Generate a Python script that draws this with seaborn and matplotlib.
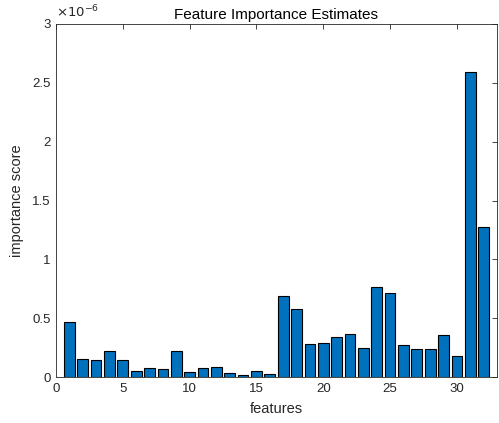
import numpy as np
import pandas as pd
import matplotlib
matplotlib.use("Agg")
import matplotlib.pyplot as plt
import seaborn as sns
from matplotlib.ticker import FuncFormatter, MultipleLocator

features = list(range(1, 33))
scores_e6 = [0.47, 0.154, 0.148, 0.227, 0.148, 0.055, 0.080, 0.075,
             0.225, 0.047, 0.080, 0.092, 0.041, 0.024, 0.058, 0.032,
             0.690, 0.578, 0.287, 0.290, 0.343, 0.371, 0.253, 0.770,
             0.713, 0.273, 0.244, 0.239, 0.357, 0.182, 2.585, 1.275]
scores = [v * 1e-6 for v in scores_e6]

title = "Feature Importance Estimates"
xlabel = "features"
ylabel = "importance score"

sns.set_theme(style="white")
plt.rcParams["font.family"] = ["Liberation Sans", "DejaVu Sans"]
axis_color = "#262626"

fig = plt.figure(figsize=(4.99, 4.23), dpi=100)
ax = fig.add_axes([0.1122, 0.1076, 0.996 - 0.1122, 0.9444 - 0.1076])

df = pd.DataFrame({"feature": features, "score": scores})
sns.barplot(data=df, x="feature", y="score", native_scale=True, width=0.8,
            color="#0072BD", saturation=1, edgecolor="black", linewidth=0.8,
            ax=ax)

ax.set_xlim(0, 33)
ax.set_ylim(0, 3e-6)
ax.xaxis.set_major_locator(MultipleLocator(5))
ax.yaxis.set_major_locator(MultipleLocator(0.5e-6))
ax.yaxis.set_major_formatter(FuncFormatter(lambda v, p: f"{v * 1e6:g}"))
ax.xaxis.set_major_formatter(FuncFormatter(lambda v, p: f"{v:g}"))

for s in ax.spines.values():
    s.set_visible(True)
    s.set_color(axis_color)
    s.set_linewidth(0.6)
ax.tick_params(direction="in", length=3.5, width=0.6, colors=axis_color,
               labelsize=9.5, top=True, right=True, pad=4)
ax.tick_params(axis="both", labelcolor=axis_color)

ax.set_title(title, fontsize=11, color="black", pad=3)
ax.set_xlabel(xlabel, fontsize=10.5, color=axis_color, labelpad=5)
ax.set_ylabel(ylabel, fontsize=10.5, color=axis_color, labelpad=6)
ax.text(0.0, 1.008, r"$\times10^{-6}$", transform=ax.transAxes,
        fontsize=9.5, color=axis_color, ha="left", va="bottom",
        math_fontfamily="dejavusans")

fig.savefig("out.png", dpi=100)
